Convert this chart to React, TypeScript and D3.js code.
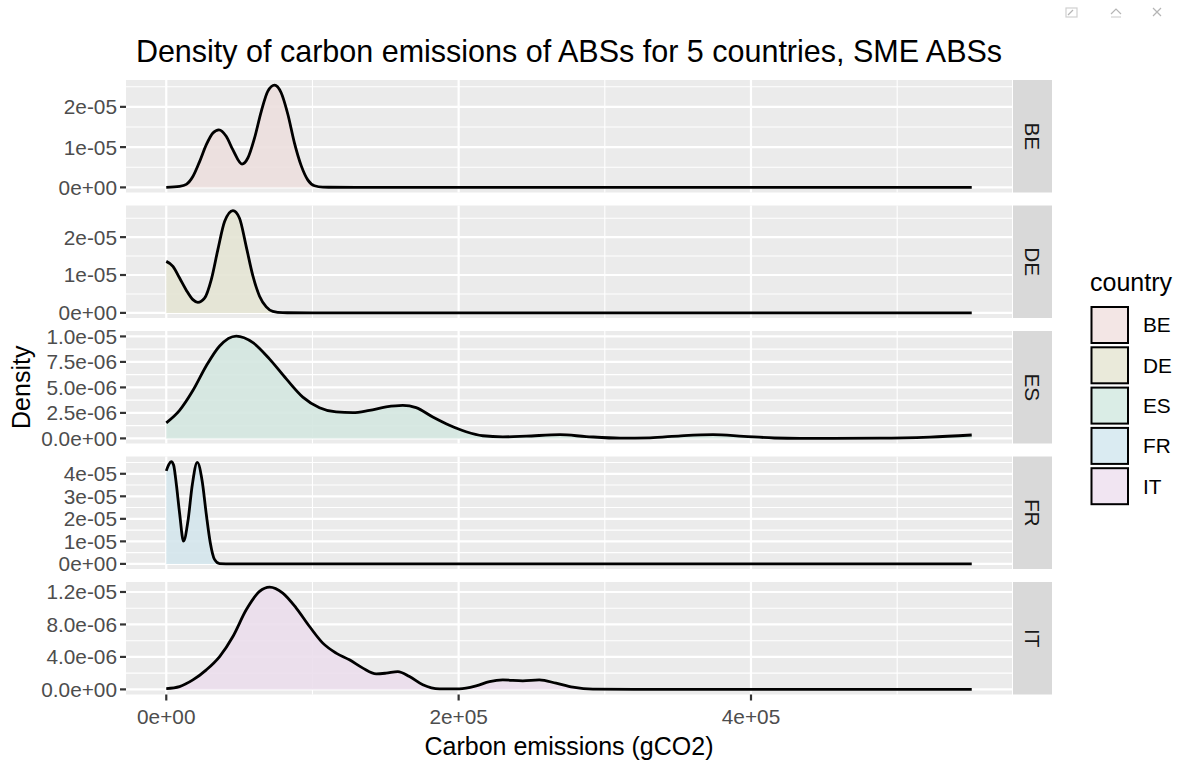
import React from "react";
import * as d3 from "d3";

// ---------- data ----------
const countries = ["BE", "DE", "ES", "FR", "IT"];
const palette = ["#F8766D", "#A3A500", "#00BF7D", "#00B0F6", "#E76BF3"];

const xTicks = [0, 200000, 400000];
const xTickLabels = ["0e+00", "2e+05", "4e+05"];
const xMinorTicks = [100000, 300000, 500000];
const xDataMax = 551000;

const beX = [0, 9100, 13700, 18200, 22800, 27400, 31900, 36000, 41000, 45600, 51800, 55800, 60400, 65000, 69500, 74100, 78600, 83200, 87700, 92300, 96900, 101400, 107100, 130000, 551000];
const beY = [0, 0.025e-5, 0.075e-5, 0.27e-5, 0.64e-5, 1.06e-5, 1.35e-5, 1.43e-5, 1.27e-5, 0.93e-5, 0.58e-5, 0.73e-5, 1.23e-5, 1.89e-5, 2.39e-5, 2.54e-5, 2.35e-5, 1.81e-5, 1.1e-5, 0.54e-5, 0.18e-5, 0.04e-5, 0.005e-5, 0, 0];

const deX = [0, 4560, 9120, 13700, 18200, 21600, 26200, 30800, 35300, 39900, 45600, 50100, 54700, 59300, 63800, 68400, 72900, 79700, 100000, 551000];
const deY = [1.36e-5, 1.23e-5, 0.92e-5, 0.6e-5, 0.35e-5, 0.28e-5, 0.39e-5, 0.88e-5, 1.67e-5, 2.41e-5, 2.7e-5, 2.5e-5, 1.75e-5, 0.97e-5, 0.44e-5, 0.16e-5, 0.04e-5, 0.005e-5, 0, 0];

const esX = [0, 9100, 18200, 27400, 36500, 47900, 59300, 70700, 82100, 93400, 104800, 116200, 127600, 139000, 150400, 161800, 170900, 182300, 193700, 205100, 216500, 230200, 246200, 269400, 287200, 310400, 330900, 352000, 374000, 395000, 416000, 433500, 488200, 522400, 551000];
const esY = [1.52e-6, 2.75e-6, 4.69e-6, 7.12e-6, 9.06e-6, 10.03e-6, 9.39e-6, 7.77e-6, 5.83e-6, 4.05e-6, 3.01e-6, 2.59e-6, 2.52e-6, 2.75e-6, 3.08e-6, 3.23e-6, 3.01e-6, 2.1e-6, 1.29e-6, 0.65e-6, 0.26e-6, 0.15e-6, 0.22e-6, 0.36e-6, 0.18e-6, 0.02e-6, 0.06e-6, 0.25e-6, 0.36e-6, 0.2e-6, 0.04e-6, 0, 0.02e-6, 0.13e-6, 0.33e-6];

const frX = [0, 1800, 3400, 5000, 6800, 9100, 11800, 14800, 17800, 21200, 24600, 27400, 30100, 33000, 36500, 45000, 551000];
const frY = [4.13e-5, 4.42e-5, 4.54e-5, 4.39e-5, 3.58e-5, 2.26e-5, 1.01e-5, 1.89e-5, 3.51e-5, 4.51e-5, 3.66e-5, 2.19e-5, 0.94e-5, 0.2e-5, 0.01e-5, 0, 0];

const itX = [0, 9100, 18200, 27400, 36500, 45600, 54700, 63800, 70700, 79700, 88900, 98000, 107100, 116200, 125300, 134500, 143600, 150400, 158400, 166400, 175500, 186900, 200500, 212000, 221100, 230200, 243900, 255200, 266700, 278100, 291800, 320000, 551000];
const itY = [0.1e-6, 0.35e-6, 1.17e-6, 2.41e-6, 4.05e-6, 6.52e-6, 9.81e-6, 12.07e-6, 12.6e-6, 11.87e-6, 10.02e-6, 7.75e-6, 5.7e-6, 4.47e-6, 3.64e-6, 2.62e-6, 1.91e-6, 2.0e-6, 2.2e-6, 1.58e-6, 0.56e-6, 0.06e-6, 0.06e-6, 0.43e-6, 0.96e-6, 1.17e-6, 1.05e-6, 1.17e-6, 0.76e-6, 0.27e-6, 0.02e-6, 0, 0];

const yTicksBE = [0, 1e-5, 2e-5];
const yLabelsBE = ["0e+00", "1e-05", "2e-05"];
const yTicksDE = [0, 1e-5, 2e-5];
const yLabelsDE = ["0e+00", "1e-05", "2e-05"];
const yTicksES = [0, 2.5e-6, 5e-6, 7.5e-6, 1e-5];
const yLabelsES = ["0.0e+00", "2.5e-06", "5.0e-06", "7.5e-06", "1.0e-05"];
const yTicksFR = [0, 1e-5, 2e-5, 3e-5, 4e-5];
const yLabelsFR = ["0e+00", "1e-05", "2e-05", "3e-05", "4e-05"];
const yTicksIT = [0, 4e-6, 8e-6, 1.2e-5];
const yLabelsIT = ["0.0e+00", "4.0e-06", "8.0e-06", "1.2e-05"];

const titleText = "Density of carbon emissions of ABSs for 5 countries, SME ABSs";
const xTitle = "Carbon emissions (gCO2)";
const yTitle = "Density";
const legendTitle = "country";

// ---------- layout ----------
const W = 1181;
const H = 760;
const FONT = "'Liberation Sans', Arial, Helvetica, sans-serif";
const TICK_FS = 20.8;
const panelLeft = 126;
const panelRight = 1012;
const stripLeft = 1013;
const stripRight = 1052;
const panelTop0 = 80;
const panelH = 112.5;
const panelGap = 13;

const seriesList = [
  { xs: beX, ys: beY, ticks: yTicksBE, labels: yLabelsBE },
  { xs: deX, ys: deY, ticks: yTicksDE, labels: yLabelsDE },
  { xs: esX, ys: esY, ticks: yTicksES, labels: yLabelsES },
  { xs: frX, ys: frY, ticks: yTicksFR, labels: yLabelsFR },
  { xs: itX, ys: itY, ticks: yTicksIT, labels: yLabelsIT },
];

const xPad = xDataMax * 0.05;
const xScale = d3.scaleLinear().domain([0 - xPad, xDataMax + xPad]).range([panelLeft, panelRight]);

function blend(hex: string, bg: string, a: number) {
  const c = d3.rgb(hex);
  const b = d3.rgb(bg);
  return d3.rgb(b.r + (c.r - b.r) * a, b.g + (c.g - b.g) * a, b.b + (c.b - b.b) * a).formatHex();
}

export default function App() {
  const panelBottom = panelTop0 + 4 * (panelH + panelGap) + panelH;
  const panelMid = (panelLeft + panelRight) / 2;

  return (
    <svg
      width={W}
      height={H}
      viewBox={`0 0 ${W} ${H}`}
      style={{ position: "absolute", left: 0, top: 0, background: "#ffffff" }}
      fontFamily={FONT}
    >
      <rect x={0} y={0} width={W} height={H} fill="#ffffff" />

      {/* viewer chrome icons */}
      <g stroke="#b5b5b5" strokeWidth={1.2} fill="none">
        <rect x={1066} y={8} width={11} height={9} stroke="#d0d0d0" />
        <path d="M1068,15 L1073,10" />
        <path d="M1111,14 L1116,9 L1121,14" />
        <path d="M1111,17 L1121,17" stroke="#d0d0d0" />
        <path d="M1153,8 L1161,16 M1161,8 L1153,16" />
      </g>

      <text x={panelMid} y={62} textAnchor="middle" fontSize={30.5} fill="#000">
        {titleText}
      </text>

      {seriesList.map((s, i) => {
        const top = panelTop0 + i * (panelH + panelGap);
        const bottom = top + panelH;
        const yMax = d3.max(s.ys) as number;
        const yMin = Math.min(0, d3.min(s.ys) as number);
        const pad = (yMax - yMin) * 0.05;
        const yScale = d3.scaleLinear().domain([yMin - pad, yMax + pad]).range([bottom, top]);
        const step = s.ticks[1] - s.ticks[0];
        const minor: number[] = [];
        for (let k = 0; k < s.ticks.length; k++) {
          const m = s.ticks[k] + step / 2;
          if (m <= yMax + pad) minor.push(m);
        }
        const pts = s.xs.map((x, j) => [x, s.ys[j]] as [number, number]);
        const area = d3
          .area<[number, number]>()
          .x((d) => xScale(d[0]))
          .y0(yScale(0))
          .y1((d) => yScale(d[1]))
          .curve(d3.curveMonotoneX);
        const line = d3
          .line<[number, number]>()
          .x((d) => xScale(d[0]))
          .y((d) => yScale(d[1]))
          .curve(d3.curveMonotoneX);
        const fill = blend(palette[i], "#EBEBEB", 0.1);
        return (
          <g key={countries[i]}>
            <rect x={panelLeft} y={top} width={panelRight - panelLeft} height={panelH} fill="#EBEBEB" />
            {minor.map((m) => (
              <line key={"ym" + m} x1={panelLeft} x2={panelRight} y1={yScale(m)} y2={yScale(m)} stroke="#ffffff" strokeWidth={1.1} />
            ))}
            {xMinorTicks.map((m) => (
              <line key={"xm" + m} x1={xScale(m)} x2={xScale(m)} y1={top} y2={bottom} stroke="#ffffff" strokeWidth={1.1} />
            ))}
            {s.ticks.map((t) => (
              <line key={"yM" + t} x1={panelLeft} x2={panelRight} y1={yScale(t)} y2={yScale(t)} stroke="#ffffff" strokeWidth={2.2} />
            ))}
            {xTicks.map((t) => (
              <line key={"xM" + t} x1={xScale(t)} x2={xScale(t)} y1={top} y2={bottom} stroke="#ffffff" strokeWidth={2.2} />
            ))}
            <path d={area(pts) || ""} fill={fill} fillOpacity={0.9} />
            <path d={line(pts) || ""} fill="none" stroke="#000000" strokeWidth={2.8} strokeLinejoin="round" />
            {/* y axis */}
            {s.ticks.map((t, k) => (
              <g key={"yt" + t}>
                <line x1={panelLeft - 6} x2={panelLeft} y1={yScale(t)} y2={yScale(t)} stroke="#333333" strokeWidth={2.2} />
                <text x={panelLeft - 9} y={yScale(t)} dy="0.36em" textAnchor="end" fontSize={TICK_FS} fill="#4D4D4D">
                  {s.labels[k]}
                </text>
              </g>
            ))}
            {/* strip */}
            <rect x={stripLeft} y={top} width={stripRight - stripLeft} height={panelH} fill="#D9D9D9" />
            <text
              transform={`translate(${(stripLeft + stripRight) / 2},${(top + bottom) / 2}) rotate(90)`}
              textAnchor="middle"
              dy="0.36em"
              fontSize={TICK_FS}
              fill="#1A1A1A"
            >
              {countries[i]}
            </text>
          </g>
        );
      })}

      {/* x axis */}
      {xTicks.map((t, k) => (
        <g key={"xt" + t}>
          <line x1={xScale(t)} x2={xScale(t)} y1={panelBottom} y2={panelBottom + 6} stroke="#333333" strokeWidth={2.2} />
          <text x={xScale(t)} y={panelBottom + 29} textAnchor="middle" fontSize={TICK_FS} fill="#4D4D4D">
            {xTickLabels[k]}
          </text>
        </g>
      ))}
      <text x={panelMid} y={755} textAnchor="middle" fontSize={25} fill="#000">
        {xTitle}
      </text>
      <text
        transform={`translate(30,${(panelTop0 + panelBottom) / 2}) rotate(-90)`}
        textAnchor="middle"
        fontSize={25}
        fill="#000"
      >
        {yTitle}
      </text>

      {/* legend */}
      <text x={1090} y={291} fontSize={25} fill="#000">
        {legendTitle}
      </text>
      {countries.map((c, i) => {
        const y = 307 + i * 40.3;
        return (
          <g key={"lg" + c}>
            <rect x={1091.5} y={y} width={36.5} height={36} fill={blend(palette[i], "#F2F2F2", 0.1)} stroke="#000" strokeWidth={2} />
            <text x={1143} y={y + 18} dy="0.36em" fontSize={TICK_FS} fill="#000">
              {c}
            </text>
          </g>
        );
      })}
    </svg>
  );
}
